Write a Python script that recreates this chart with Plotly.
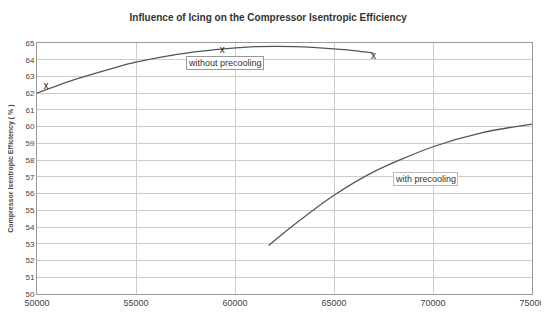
import plotly.graph_objects as go

# Data
x_without = [50000, 52000, 54000, 55000, 57000, 59000, 61000, 62000, 63000, 65000, 66000, 67000]
y_without = [62.0, 62.85, 63.55, 63.85, 64.3, 64.6, 64.78, 64.8, 64.78, 64.65, 64.55, 64.4]
x_markers = [50450, 59350, 67000]
y_markers = [62.4, 64.55, 64.2]
x_with = [61700, 63000, 65000, 67000, 70000, 72500, 75000]
y_with = [52.9, 54.15, 55.9, 57.3, 58.8, 59.65, 60.15]

x_ticks = [50000, 55000, 60000, 65000, 70000, 75000]
y_ticks = list(range(50, 66))

title = "Influence of Icing on the Compressor Isentropic Efficiency"
y_title = "Compressor Isentropic Efficiency ( % )"
label_without = "without precooling"
label_with = "with precooling"

line_color = "#555555"
fig = go.Figure()
fig.add_trace(go.Scatter(x=x_without, y=y_without, mode="lines", line=dict(color=line_color, width=1.3, shape="spline", smoothing=0.8), showlegend=False))
fig.add_trace(go.Scatter(x=x_with, y=y_with, mode="lines", line=dict(color=line_color, width=1.3, shape="spline", smoothing=0.8), showlegend=False))
fig.add_trace(go.Scatter(x=x_markers, y=y_markers, mode="text", text=["x"] * 3, textfont=dict(family="Liberation Sans", size=10, color="#222"), textposition="middle center", showlegend=False))

fig.add_annotation(x=59500, y=63.8, text=label_without, showarrow=False, font=dict(family="Liberation Sans", size=9, color="#333"),
                   bordercolor="#999", borderwidth=1, borderpad=1, bgcolor="white")
fig.add_annotation(x=69600, y=56.85, text=label_with, showarrow=False, font=dict(family="Liberation Sans", size=9, color="#333"),
                   bordercolor="#bbb", borderwidth=1, borderpad=1, bgcolor="white")
fig.add_annotation(xref="paper", yref="paper", x=-0.054, y=0.5, xanchor="center", yanchor="middle",
                   text="<b>" + y_title + "</b>", textangle=-90, showarrow=False,
                   font=dict(family="Liberation Sans", size=7, color="#444"))

fig.update_layout(
    width=549, height=312,
    margin=dict(l=29, r=13, t=35, b=20),
    paper_bgcolor="white", plot_bgcolor="white",
    title=dict(text="<b>" + title + "</b>", x=0.474, xanchor="center", y=0.982, yanchor="top",
               font=dict(family="Liberation Sans", size=10, color="#333")),
    font=dict(family="Liberation Sans", size=8, color="#444"),
)
fig.update_xaxes(range=[50000, 75000], tickvals=x_ticks, ticktext=[str(v) for v in x_ticks],
                 showgrid=True, gridcolor="#cccccc", gridwidth=1, zeroline=False,
                 showline=True, linecolor="#999", mirror=True, ticks="", tickfont=dict(size=9))
fig.update_yaxes(range=[50, 65], tickvals=y_ticks, showgrid=True, gridcolor="#cccccc", gridwidth=1, zeroline=False,
                 showline=True, linecolor="#999", mirror=True, ticks="", tickfont=dict(size=8))
fig.write_html("out.html")
